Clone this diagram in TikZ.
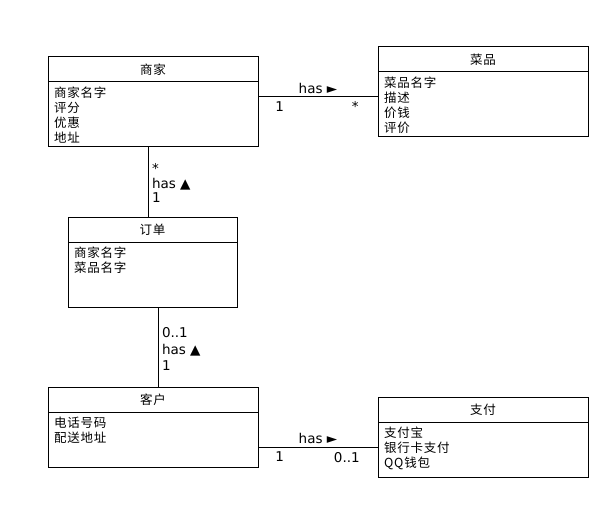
\documentclass[tikz,border=0pt]{standalone}
\usepackage{fontspec}
\setmainfont{DejaVu Sans}
\newfontfamily\cjk[LetterSpace=6]{Noto Sans CJK SC}
\usetikzlibrary{positioning}
\tikzset{clshead/.style={draw, line width=1pt, inner sep=0pt, outer sep=0pt, font=\cjk\fontsize{12.5}{14}\selectfont}}
\tikzset{clsbody/.style={draw, line width=1pt, inner sep=0pt, outer sep=0pt}}
\tikzset{clsattr/.style={inner sep=0pt, anchor=north west, align=left, font=\cjk\fontsize{12.5}{15}\selectfont}}
\tikzset{
  assoc/.style={black, line width=1pt},
  lbl/.style={inner sep=1pt, font=\fontsize{13.5}{13.5}\selectfont},
  mult/.style={lbl, below, inner sep=4pt}
}
\begin{document}
\begin{tikzpicture}[x=1pt, y=-1pt]
\useasboundingbox (0,0) rectangle (598,527);
% classes
\node[clshead, minimum width=210, minimum height=25] (merchant) at (153,69.5) {商家};
\node[clsbody, minimum width=210, minimum height=65, below=0pt of merchant] (merchantb) {};
\node[clsattr] (merchanta) at ([xshift=6pt,yshift=-5pt]merchantb.north west) {商家名字\\评分\\优惠\\地址};
\node[clshead, minimum width=210, minimum height=25] (dish) at (483,59.5) {菜品};
\node[clsbody, minimum width=210, minimum height=65, below=0pt of dish] (dishb) {};
\node[clsattr] (disha) at ([xshift=6pt,yshift=-5pt]dishb.north west) {菜品名字\\描述\\价钱\\评价};
\node[clshead, minimum width=169, minimum height=25] (order) at (152.5,229.5) {订单};
\node[clsbody, minimum width=169, minimum height=65, below=0pt of order] (orderb) {};
\node[clsattr] (ordera) at ([xshift=6pt,yshift=-5pt]orderb.north west) {商家名字\\菜品名字};
\node[clshead, minimum width=210, minimum height=25] (customer) at (153,399.5) {客户};
\node[clsbody, minimum width=210, minimum height=55, below=0pt of customer] (customerb) {};
\node[clsattr] (customera) at ([xshift=6pt,yshift=-5pt]customerb.north west) {电话号码\\配送地址};
\node[clshead, minimum width=210, minimum height=25] (payment) at (483,409.5) {支付};
\node[clsbody, minimum width=210, minimum height=55, below=0pt of payment] (paymentb) {};
\node[clsattr] (paymenta) at ([xshift=6pt,yshift=-5pt]paymentb.north west) {支付宝\\银行卡支付\\QQ钱包};
% associations
\draw[assoc] ([yshift=-15pt]merchantb.north east) -- ([yshift=-25pt]dishb.north west)
  node[lbl, above=2pt, midway] {has ►}
  node[mult, pos=0.18] {1}
  node[mult, pos=0.81] {*};
\draw[assoc] ([xshift=-4.5pt]merchantb.south) -- ([xshift=-4pt]order.north)
  node[lbl, right=2pt, pos=0.31] {*}
  node[lbl, right=2pt, pos=0.53] {has ▲}
  node[lbl, right=2pt, pos=0.72] {1};
\draw[assoc] ([xshift=6pt]orderb.south) -- ([xshift=5.5pt]customer.north)
  node[lbl, right=2pt, pos=0.325] {0..1}
  node[lbl, right=2pt, pos=0.54] {has ▲}
  node[lbl, right=2pt, pos=0.73] {1};
\draw[assoc] ([yshift=-35.5pt]customerb.north east) -- ([yshift=-25.5pt]paymentb.north west)
  node[lbl, above=2pt, midway] {has ►}
  node[mult, pos=0.18] {1}
  node[mult, pos=0.74] {0..1};
\end{tikzpicture}
\end{document}
